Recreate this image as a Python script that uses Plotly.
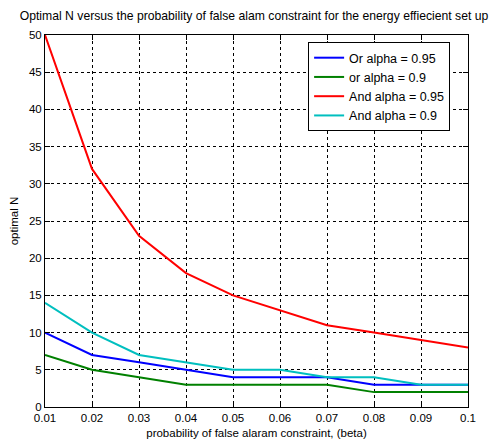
import plotly.graph_objects as go

beta = [0.01, 0.02, 0.03, 0.04, 0.05, 0.06, 0.07, 0.08, 0.09, 0.1]
or_095 = [10, 7, 6, 5, 4, 4, 4, 3, 3, 3]
or_09 = [7, 5, 4, 3, 3, 3, 3, 2, 2, 2]
and_095 = [50, 32, 23, 18, 15, 13, 11, 10, 9, 8]
and_09 = [14, 10, 7, 6, 5, 5, 4, 4, 3, 3]

x_ticks = [0.01, 0.02, 0.03, 0.04, 0.05, 0.06, 0.07, 0.08, 0.09, 0.1]
x_ticktext = ["0.01", "0.02", "0.03", "0.04", "0.05", "0.06", "0.07", "0.08", "0.09", "0.1"]
y_ticks = [0, 5, 10, 15, 20, 25, 30, 35, 40, 45, 50]

series = [
    ("Or alpha = 0.95", or_095, "#0000ff"),
    ("or alpha = 0.9", or_09, "#008000"),
    ("And alpha = 0.95", and_095, "#ff0000"),
    ("And alpha = 0.9", and_09, "#00bfbf"),
]

fig = go.Figure()
for name, ys, col in series:
    fig.add_trace(go.Scatter(x=beta, y=ys, mode="lines", name=name,
                             line=dict(color=col, width=2)))

font = "Liberation Sans, Arial, sans-serif"
axis_common = dict(showline=True, linecolor="black", linewidth=1, mirror="ticks",
                   ticks="inside", ticklen=5, tickcolor="black",
                   showgrid=True, gridcolor="black", griddash="3px,3px", gridwidth=1,
                   zeroline=False, automargin=False,
                   tickfont=dict(size=11.5, color="black", family=font))

# the page body adds an 8px offset, so the figure is sized and placed to compensate
fig.update_layout(
    width=492, height=436,
    margin=dict(l=37, r=32, t=27, b=37, autoexpand=False),
    paper_bgcolor="white", plot_bgcolor="white",
    font=dict(family=font, size=11, color="black"),
    title=dict(text="Optimal N versus the probability of false alam constraint for the energy effiecient set up",
               x=0.5, xanchor="center", y=0.982, yanchor="middle",
               font=dict(size=12.2, family=font, color="black")),
    xaxis=dict(range=[0.01, 0.1], tickvals=x_ticks, ticktext=x_ticktext,
               title=dict(text="probability of false alaram constraint, (beta)", standoff=6,
                          font=dict(size=11.5)),
               **axis_common),
    yaxis=dict(range=[0, 50], tickvals=y_ticks,
               title=dict(text="optimal N", standoff=10, font=dict(size=11.5)),
               **axis_common),
    legend=dict(x=0.622, y=0.981, xanchor="left", yanchor="top",
                bordercolor="black", borderwidth=1, bgcolor="white",
                font=dict(size=12.5, family=font), tracegroupgap=0),
    showlegend=True,
)

fig.write_html("out.html")
